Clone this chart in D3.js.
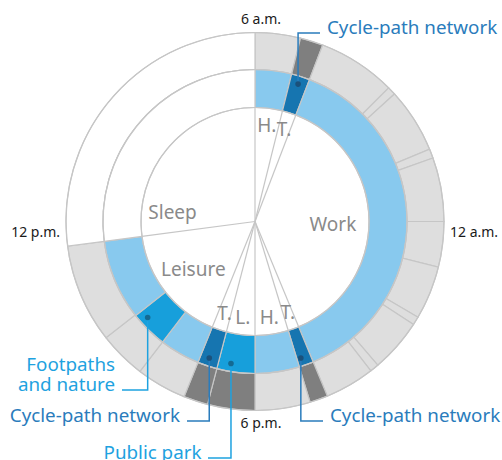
<!DOCTYPE html>
<html>
<head>
<meta charset="utf-8">
<script src="https://cdn.jsdelivr.net/npm/d3@7"></script>
<style>
  body { margin: 0; background: #fff; }
  text { font-family: "Noto Sans", sans-serif; }
</style>
</head>
<body>
<div id="chart"></div>
<script>
// Data (hours on a 24h clock, 6 a.m. at the top; 30 = 6 a.m. next day)

// inner disc: activities
const activityNames = ["H.", "T.", "Work", "T.", "H.", "L.", "T.", "Leisure", "Sleep"];
const activityStart = [6, 6.93, 7.4, 16.5, 16.87, 18, 18.97, 19.47, 23.5];
const activityEnd = [6.93, 7.4, 16.5, 16.87, 18, 18.97, 19.47, 23.5, 30];

// middle ring: surroundings
const placeType = ["built", "cycle", "built", "cycle", "built", "park", "cycle", "built", "footpath", "built", "none"];
const placeStart = [6, 6.93, 7.4, 16.5, 16.87, 18, 18.97, 19.47, 20.5, 21.45, 23.5];
const placeEnd = [6.93, 7.4, 16.5, 16.87, 18, 18.97, 19.47, 20.5, 21.45, 23.5, 30];

// outer ring: exposure blocks (1 = active / outdoors)
const outerBreaks = [6, 6.93, 7.4, 9.0, 9.17, 10.5, 10.69, 12, 12.93, 14.03, 14.2, 15.3, 15.48,
  16.5, 16.87, 18, 18.97, 19.47, 20.5, 21.47, 23.5, 30];
const outerActive = [0, 1, 0, 0, 0, 0, 0, 0, 0, 0, 0, 0, 0, 1, 0, 1, 1, 0, 0, 0, -1];

// clock labels
const tickHours = [6, 12, 18, 24];
const tickLabels = ["6 a.m.", "12 a.m.", "6 p.m.", "12 p.m."];

// callouts: label lines and the middle-ring segment they point at
const calloutText = [["Cycle-path network"], ["Cycle-path network"], ["Footpaths", "and nature"], ["Cycle-path network"], ["Public park"]];
const calloutSegment = [1, 3, 8, 6, 5];

// Layout
const width = 502, height = 460;
const cx = 255, cy = 221.5;
const r0 = 114, r1 = 152, r2 = 189;
const lineColor = "#c6c6c6";

const placeColor = { built: "#88c9ee", cycle: "#1675b0", park: "#179fdb", footpath: "#179fdb", none: "#fff" };
const outerColor = { "0": "#dedede", "1": "#7f7f7f", "-1": "#fff" };

// label placement overrides for the big activity labels (hour on the clock, radius)
const labelPlace = { Work: [12.15, 78], Sleep: [24.43, 83] };

// per-callout layout: position inside segment, leader y, leader end x, text x, anchor, colour
const calloutLayout = [
  { at: 0.49, y: 33, lineX: 320, textX: 327, anchor: "start", color: "#2a7cbc" },
  { at: 0.71, y: 421, lineX: 323, textX: 330, anchor: "start", color: "#2a7cbc" },
  { at: 0.75, y: 390, lineX: 122, textX: 115, anchor: "end", color: "#1ea2e0" },
  { at: 0.53, y: 421, lineX: 187, textX: 180, anchor: "end", color: "#2a7cbc" },
  { at: 0.66, y: 458, lineX: 208, textX: 201.5, anchor: "end", color: "#1ea2e0" }
];

const tickLayout = [
  { anchor: "middle", dx: 6, dy: -1.5 },
  { anchor: "start", dx: -1, dy: 15.5 },
  { anchor: "middle", dx: 6, dy: 10.5 },
  { anchor: "end", dx: 1, dy: 15.5 }
];

const angle = d3.scaleLinear().domain([6, 30]).range([0, 2 * Math.PI]);

function polar(h, r) {
  const a = angle(h);
  return [r * Math.sin(a), -r * Math.cos(a)];
}

const svg = d3.select("#chart")
  .append("svg")
    .attr("width", width)
    .attr("height", height);

const g = svg.append("g")
  .attr("transform", `translate(${cx},${cy})`);

const arc = d3.arc();

// outer ring
const outerData = outerActive.map((v, i) => ({ s: outerBreaks[i], e: outerBreaks[i + 1], v: v }));
g.selectAll("path.outer")
  .data(outerData)
  .join("path")
    .attr("class", "outer")
    .attr("d", d => arc({ innerRadius: r1, outerRadius: r2, startAngle: angle(d.s), endAngle: angle(d.e) }))
    .attr("fill", d => outerColor[d.v])
    .attr("stroke", lineColor)
    .attr("stroke-width", 1.2);

// middle ring
const placeData = placeType.map((t, i) => ({ s: placeStart[i], e: placeEnd[i], t: t }));
g.selectAll("path.place")
  .data(placeData)
  .join("path")
    .attr("class", "place")
    .attr("d", d => arc({ innerRadius: r0, outerRadius: r1, startAngle: angle(d.s), endAngle: angle(d.e) }))
    .attr("fill", d => placeColor[d.t])
    .attr("stroke", lineColor)
    .attr("stroke-width", 1.2);

// ring outlines
g.selectAll("circle.ring")
  .data([r0, r1, r2])
  .join("circle")
    .attr("class", "ring")
    .attr("r", d => d)
    .attr("fill", "none")
    .attr("stroke", lineColor)
    .attr("stroke-width", 1.2);

// inner disc spokes
g.selectAll("line.spoke")
  .data(activityStart)
  .join("line")
    .attr("class", "spoke")
    .attr("x1", 0).attr("y1", 0)
    .attr("x2", d => polar(d, r0)[0])
    .attr("y2", d => polar(d, r0)[1])
    .attr("stroke", lineColor)
    .attr("stroke-width", 1.2);

// activity labels
const actData = activityNames.map((n, i) => {
  const s = activityStart[i], e = activityEnd[i];
  let h = (s + e) / 2, r = (e - s) < 1.5 ? 97 : 78;
  if (labelPlace[n]) { h = labelPlace[n][0]; r = labelPlace[n][1]; }
  return { n: n, p: polar(h, r) };
});
g.selectAll("text.act")
  .data(actData)
  .join("text")
    .attr("class", "act")
    .attr("x", d => d.p[0])
    .attr("y", d => d.p[1])
    .attr("dy", "0.35em")
    .attr("text-anchor", "middle")
    .attr("font-size", 19)
    .attr("fill", "#8a8a8a")
    .text(d => d.n);

// clock labels
g.selectAll("text.tick")
  .data(tickHours)
  .join("text")
    .attr("class", "tick")
    .attr("x", (d, i) => polar(d, 196)[0] + tickLayout[i].dx)
    .attr("y", (d, i) => polar(d, 196)[1] + tickLayout[i].dy)
    .attr("text-anchor", (d, i) => tickLayout[i].anchor)
    .attr("font-size", 14)
    .attr("fill", "#1a1a1a")
    .text((d, i) => tickLabels[i]);

// callouts
const callData = calloutText.map((t, i) => {
  const k = calloutSegment[i], L = calloutLayout[i];
  const h = placeStart[k] + (placeEnd[k] - placeStart[k]) * L.at;
  const p = polar(h, 144);
  return { t: t, L: L, x: cx + p[0], y: cy + p[1] };
});

const call = svg.selectAll("g.callout")
  .data(callData)
  .join("g")
    .attr("class", "callout");

call.append("path")
  .attr("d", d => `M${d.x},${d.y}V${d.L.y}H${d.L.lineX}`)
  .attr("fill", "none")
  .attr("stroke", d => d.L.color)
  .attr("stroke-width", 1.5);

call.append("circle")
  .attr("cx", d => d.x)
  .attr("cy", d => d.y)
  .attr("r", 2.8)
  .attr("fill", d => d3.color(d.L.color).darker(1.2));

call.append("text")
  .attr("x", d => d.L.textX)
  .attr("text-anchor", d => d.L.anchor)
  .attr("font-size", 18.8)
  .attr("fill", d => d.L.color)
  .selectAll("tspan")
  .data(d => d.t.map((line, j) => ({ line: line, y: d.L.y + 1 - (d.t.length - 1 - j) * 20, x: d.L.textX })))
  .join("tspan")
    .attr("x", d => d.x)
    .attr("y", d => d.y)
    .text(d => d.line);
</script>
</body>
</html>
